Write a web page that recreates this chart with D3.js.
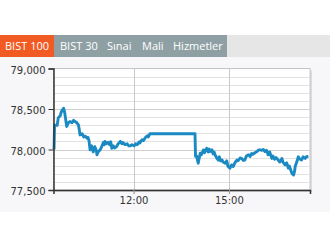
<!DOCTYPE html>
<html>
<head>
<meta charset="utf-8">
<script src="https://cdn.jsdelivr.net/npm/d3@7"></script>
<style>
  html, body { margin: 0; padding: 0; background: #fff; }
  svg { display: block; }
</style>
</head>
<body>
<script>

let tabs = ["BIST 100", "BIST 30", "Sınai", "Mali", "Hizmetler"];
let tabX = [5, 60, 107, 142, 173];

let yTicks = [77500, 78000, 78500, 79000];
let xTicks = ["12:00", "15:00"];

let times = ["9:30", "9:31", "9:36", "9:38", "9:42", "9:43", "9:45", "9:48", "9:50", "9:52",
  "9:54", "9:57", "10:00", "10:04", "10:07", "10:10", "10:13", "10:16", "10:18", "10:19",
  "10:23", "10:26", "10:29", "10:32", "10:34", "10:36", "10:38", "10:41", "10:44", "10:47",
  "10:50", "10:51", "10:53", "10:57", "11:00", "11:03", "11:05", "11:06", "11:09", "11:12",
  "11:15", "11:17", "11:19", "11:22", "11:24", "11:28", "11:31", "11:35", "11:38", "11:40",
  "11:44", "11:48", "11:51", "11:54", "11:57", "12:01", "12:04", "12:07", "12:11", "12:12",
  "12:16", "12:19", "12:22", "12:26", "12:28", "12:31", "13:56", "13:57", "13:59", "14:02",
  "14:04", "14:06", "14:08", "14:12", "14:14", "14:18", "14:21", "14:23", "14:24", "14:28",
  "14:30", "14:32", "14:34", "14:37", "14:40", "14:42", "14:44", "14:47", "14:49", "14:53",
  "14:56", "14:58", "15:02", "15:05", "15:08", "15:12", "15:15", "15:17", "15:21", "15:24",
  "15:27", "15:30", "15:33", "15:37", "15:40", "15:43", "15:45", "15:49", "15:53", "15:56",
  "15:59", "16:02", "16:05", "16:08", "16:11", "16:14", "16:17", "16:21", "16:23", "16:26",
  "16:29", "16:33", "16:36", "16:40", "16:42", "16:46", "16:49", "16:52", "16:54", "16:59",
  "17:02", "17:04", "17:05", "17:08", "17:11", "17:13", "17:17", "17:20", "17:24", "17:26",
  "17:30"];

let values = [78000, 78300, 78300, 78390, 78420, 78450, 78480, 78510, 78460, 78370,
  78285, 78330, 78345, 78330, 78360, 78345, 78330, 78305, 78230, 78180,
  78195, 78155, 78165, 78140, 78150, 78110, 77995, 78045, 77970, 78035,
  77985, 77935, 77970, 77995, 78035, 78085, 78060, 78100, 78070, 78090,
  78060, 78095, 78015, 78045, 78020, 78035, 78070, 78100, 78070, 78085,
  78060, 78070, 78045, 78045, 78060, 78045, 78070, 78060, 78095, 78080,
  78120, 78110, 78145, 78170, 78155, 78195, 78195, 77915, 77920, 77830,
  77895, 77955, 77935, 77995, 77960, 78015, 77970, 78005, 77975, 77995,
  77945, 77970, 77935, 77895, 77870, 77910, 77860, 77870, 77845, 77830,
  77860, 77795, 77770, 77810, 77790, 77845, 77870, 77860, 77895, 77890,
  77865, 77870, 77920, 77935, 77915, 77950, 77940, 77960, 77975, 77995,
  77995, 77990, 78000, 77975, 77990, 77935, 77970, 77890, 77920, 77880,
  77900, 77870, 77845, 77890, 77845, 77810, 77835, 77770, 77795, 77705,
  77685, 77735, 77790, 77845, 77910, 77885, 77870, 77910, 77890, 77910,
  77915];

let parseTime = d3.timeParse("%H:%M");
let data = times.map(function (t, i) { return { t: parseTime(t), v: values[i] }; });

let width = 330, height = 247;
let mLeft = 53.5, mRight = 310, mTop = 68.5, mBottom = 190;

let svg = d3.select("body").append("svg")
    .attr("width", width)
    .attr("height", height);

// backgrounds
svg.append("rect").attr("x", 0).attr("y", 57).attr("width", width).attr("height", 155).attr("fill", "#f7f7f9");
svg.append("rect").attr("x", 0).attr("y", 35).attr("width", width).attr("height", 22).attr("fill", "#e6e6e6");
svg.append("rect").attr("x", 54).attr("y", 35).attr("width", 173).attr("height", 22).attr("fill", "#8fa0a5");
svg.append("rect").attr("x", 0).attr("y", 35).attr("width", 54).attr("height", 22).attr("fill", "#f15a22");

svg.append("g").selectAll("text")
    .data(tabs)
    .enter().append("text")
    .attr("x", function (d, i) { return tabX[i]; })
    .attr("y", 50)
    .attr("fill", "#fff")
    .style("font-family", "'Open Sans', sans-serif")
    .style("font-size", "11px")
    .text(function (d) { return d; });

let x = d3.scaleTime()
    .domain([parseTime("9:29"), parseTime("17:33")])
    .range([mLeft, mRight]);

let y = d3.scaleLinear()
    .domain([77500, 79000])
    .range([mBottom, mTop]);

// plot panel with shadow
svg.append("rect").attr("x", mLeft + 2).attr("y", mTop + 2).attr("width", mRight - mLeft).attr("height", mBottom - mTop).attr("fill", "#dcdcdc");
svg.append("rect").attr("x", mLeft).attr("y", mTop).attr("width", mRight - mLeft).attr("height", mBottom - mTop)
    .attr("fill", "#fff").attr("stroke", "#c4c4c4").attr("stroke-width", 1);

// horizontal grid
svg.append("g").selectAll("line")
    .data(d3.range(77600, 79000, 100))
    .enter().append("line")
    .attr("x1", mLeft).attr("x2", mRight)
    .attr("y1", function (d) { return Math.round(y(d)) + 0.5; })
    .attr("y2", function (d) { return Math.round(y(d)) + 0.5; })
    .attr("stroke", function (d) { return d % 500 === 0 ? "#cfcfcf" : "#e2e2e2"; })
    .attr("stroke-width", 1);

// vertical grid
svg.append("g").selectAll("line")
    .data(xTicks)
    .enter().append("line")
    .attr("x1", function (d) { return Math.round(x(parseTime(d))) + 0.5; })
    .attr("x2", function (d) { return Math.round(x(parseTime(d))) + 0.5; })
    .attr("y1", mTop).attr("y2", mBottom + 4)
    .attr("stroke", "#c8c8c8");

// line
let line = d3.line()
    .x(function (d) { return x(d.t); })
    .y(function (d) { return y(d.v); });

svg.append("path")
    .datum(data)
    .attr("d", line)
    .attr("fill", "none")
    .attr("stroke", "#1b8ac3")
    .attr("stroke-width", 2.9)
    .attr("stroke-linejoin", "round");

// axes
let yAxis = d3.axisLeft(y).tickValues(yTicks).tickSize(5).tickPadding(3)
    .tickFormat(d3.format(","));
let yg = svg.append("g").attr("transform", "translate(" + mLeft + ",0)").call(yAxis);

let xAxis = d3.axisBottom(x).tickValues(xTicks.map(parseTime)).tickSize(4).tickPadding(3)
    .tickFormat(d3.timeFormat("%H:%M"));
let xg = svg.append("g").attr("transform", "translate(0," + mBottom + ")").call(xAxis);

[yg, xg].forEach(function (g) {
    g.select(".domain").attr("stroke", "#333").attr("stroke-width", 1.5);
    g.selectAll(".tick line").attr("stroke", "#333");
    g.selectAll("text")
        .attr("fill", "#333")
        .style("font-family", "'DejaVu Sans', Verdana, sans-serif")
        .style("font-size", "10px");
});
yg.selectAll(".tick text").attr("dy", "0.45em");
xg.selectAll(".tick line").attr("stroke", "#999");

</script>
</body>
</html>
